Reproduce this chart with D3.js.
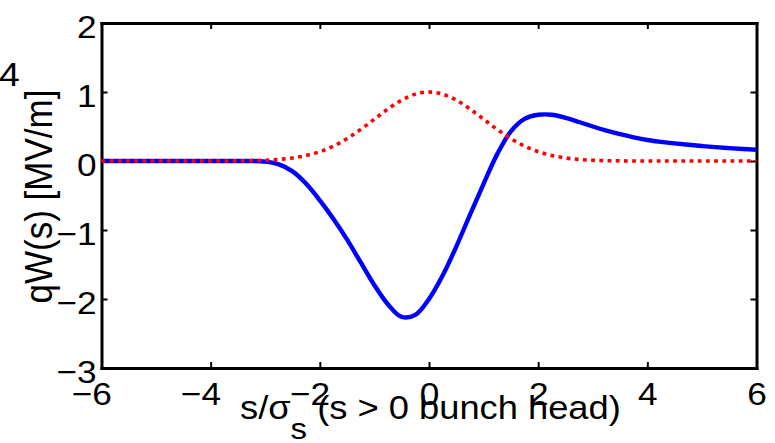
<!DOCTYPE html>
<html>
<head>
<meta charset="utf-8">
<script src="https://cdn.jsdelivr.net/npm/d3@7"></script>
<style>
  html, body { margin: 0; padding: 0; background: #fff; }
  svg { display: block; font-family: "Liberation Sans", Arial, Helvetica, sans-serif; }
</style>
</head>
<body>
<svg id="chart" width="775" height="443"></svg>
<script>
// ---- data ----
const sValues = [-6,-5.75,-5.5,-5.25,-5,-4.75,-4.5,-4.25,-4,-3.75,-3.5,-3.25,
  -3,-2.75,-2.5,-2.25,-2,-1.75,-1.5,-1.25,-1,-0.75,-0.5,-0.25,
  0,0.25,0.5,0.75,1,1.25,1.5,1.75,2,2.25,2.5,2.75,3,3.25,3.5,3.75,
  4,4.25,4.5,4.75,5,5.25,5.5,5.75,6];
const wakeValues = [0,0,0,0,0,0,0,0,0,0,0,0,
  -0.01,-0.05,-0.15,-0.33,-0.57,-0.84,-1.14,-1.47,-1.80,-2.08,-2.26,-2.23,
  -2.00,-1.66,-1.24,-0.78,-0.33,0.10,0.43,0.61,0.67,0.67,0.625,0.565,0.500,0.440,0.388,0.343,
  0.305,0.278,0.255,0.235,0.217,0.201,0.187,0.174,0.163];
const bunchValues = [0,0,0,0,0,0,0,0,0,0,0.002,0.005,
  0.011,0.023,0.044,0.080,0.135,0.216,0.325,0.458,0.607,0.755,0.882,0.969,
  1,0.969,0.882,0.755,0.607,0.458,0.325,0.216,0.135,0.080,0.044,0.023,0.011,0.005,0.002,0,
  0,0,0,0,0,0,0,0,0];
const xTicks = [-6,-4,-2,0,2,4,6];
const yTicks = [-3,-2,-1,0,1,2];
const yLabelText = "qW(s) [MV/m]";
const xLabelMain = "s/σ";
const xLabelSub = "s";
const xLabelRest = " (s > 0 bunch head)";
const strayText = "4";

// ---- layout ----
const L = 101.5, R = 756.5, T = 23, B = 368;
const STRETCH = 1.1;
const svg = d3.select("#chart");
const x = d3.scaleLinear().domain([-6, 6]).range([L, R]);
const y = d3.scaleLinear().domain([-3, 2]).range([B, T]);

function styleAxis(g) {
  g.select(".domain").attr("stroke", "#000").attr("stroke-width", 3).attr("stroke-linecap", "square");
  g.selectAll(".tick line").attr("stroke", "#000").attr("stroke-width", 2);
}

// bottom axis
const gB = svg.append("g").attr("transform", `translate(0,${B})`)
  .call(d3.axisBottom(x).tickValues(xTicks).tickSizeInner(-6).tickSizeOuter(0).tickFormat(""));
styleAxis(gB);
gB.selectAll(".tick").append("text")
  .attr("fill", "#000")
  .attr("font-size", 32)
  .attr("text-anchor", "end")
  .attr("x", 8.9)
  .attr("y", 37)
  .attr("transform", `scale(${STRETCH},1)`)
  .text(d => d < 0 ? "\u2212" + Math.abs(d) : String(d));

// top axis
const gT = svg.append("g").attr("transform", `translate(0,${T})`)
  .call(d3.axisTop(x).tickValues(xTicks).tickSizeInner(-6).tickSizeOuter(0).tickFormat(""));
styleAxis(gT);

// left axis
const gL = svg.append("g").attr("transform", `translate(${L},0)`)
  .call(d3.axisLeft(y).tickValues(yTicks).tickSizeInner(-6).tickSizeOuter(0).tickFormat(""));
styleAxis(gL);
gL.selectAll(".tick").append("text")
  .attr("fill", "#000")
  .attr("font-size", 32)
  .attr("text-anchor", "end")
  .attr("x", -5 / STRETCH)
  .attr("y", 14)
  .attr("transform", `scale(${STRETCH},1)`)
  .text(d => d < 0 ? "\u2212" + Math.abs(d) : String(d));

// right axis
const gR = svg.append("g").attr("transform", `translate(${R},0)`)
  .call(d3.axisRight(y).tickValues(yTicks).tickSizeInner(-6).tickSizeOuter(0).tickFormat(""));
styleAxis(gR);

// lines
const wakeData = sValues.map((s, i) => [s, wakeValues[i]]);
const bunchData = sValues.map((s, i) => [s, bunchValues[i]]);
const line = d3.line().x(d => x(d[0])).y(d => y(d[1])).curve(d3.curveCatmullRom.alpha(0.5));

svg.append("path").datum(wakeData)
  .attr("d", line).attr("fill", "none")
  .attr("stroke", "#0000ff").attr("stroke-width", 4.4).attr("stroke-linejoin", "round");

svg.append("path").datum(bunchData)
  .attr("d", line).attr("fill", "none")
  .attr("stroke", "#ff0000").attr("stroke-width", 3.6)
  .attr("stroke-dasharray", "3.8 4.4");

// x label
const xl = svg.append("text")
  .attr("fill", "#000")
  .attr("transform", `translate(240,419) scale(${STRETCH},1)`)
  .attr("font-size", 33);
xl.append("tspan").text(xLabelMain);
xl.append("tspan").attr("dy", 20).attr("font-size", 30).text(xLabelSub);
xl.append("tspan").attr("dy", -20).text(xLabelRest);

// y label
svg.append("text")
  .attr("fill", "#000")
  .attr("font-size", 35)
  .attr("text-anchor", "middle")
  .attr("transform", `translate(52,196.5) scale(${STRETCH},1) rotate(-90)`)
  .text(yLabelText);

// stray glyph at top-left
svg.append("text")
  .attr("fill", "#000")
  .attr("font-size", 34)
  .attr("transform", `translate(-1,86) scale(${STRETCH},1)`)
  .text(strayText);
</script>
</body>
</html>
